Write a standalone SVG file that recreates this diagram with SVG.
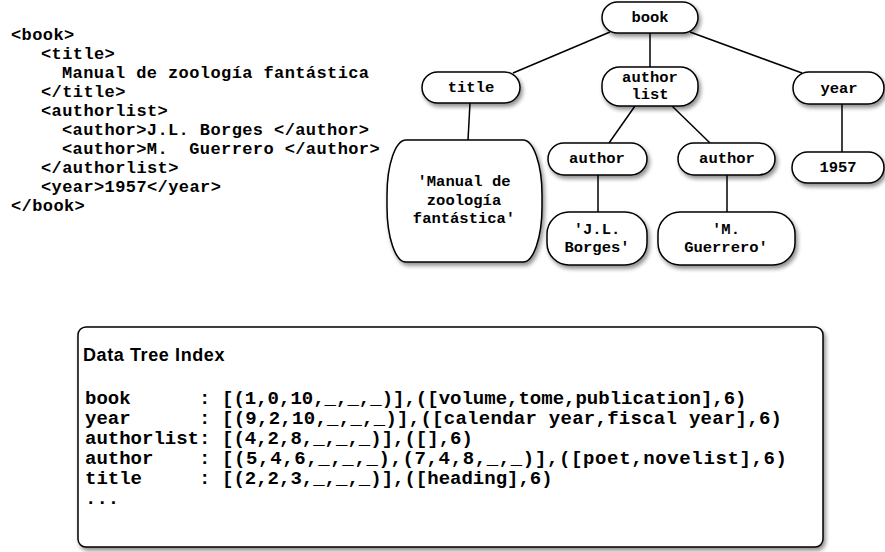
<svg xmlns="http://www.w3.org/2000/svg" width="885" height="552" viewBox="0 0 885 552">
<defs>
<filter id="sh" x="-20%" y="-20%" width="150%" height="160%">
<feGaussianBlur in="SourceAlpha" stdDeviation="2"/>
<feOffset dx="2" dy="3" result="b"/>
<feComponentTransfer><feFuncA type="linear" slope="0.45"/></feComponentTransfer>
<feMerge><feMergeNode/><feMergeNode in="SourceGraphic"/></feMerge>
</filter>
</defs>
<style>
.code{font-family:"Liberation Mono","Courier New",monospace;font-weight:bold;font-size:17px;letter-spacing:0.4px;fill:#000}
.n{fill:#fff;stroke:#000;stroke-width:1.5;filter:url(#sh)}
.t{font-family:"Liberation Mono","Courier New",monospace;font-weight:bold;font-size:15.5px;fill:#000;text-anchor:middle}
.e{stroke:#000;stroke-width:1.5;fill:none}
.idx{font-family:"Liberation Mono","Courier New",monospace;font-weight:bold;font-size:19px;fill:#000;white-space:pre}
.hd{font-family:"Liberation Sans",Arial,sans-serif;font-weight:bold;font-size:18px;fill:#000}
</style>
<rect width="885" height="552" fill="#fff"/>
<g id="xml-source">
<text class="code" x="11" y="40">&lt;book&gt;</text>
<text class="code" x="41" y="59">&lt;title&gt;</text>
<text class="code" x="62" y="78">Manual de zoología fantástica</text>
<text class="code" x="41" y="97">&lt;/title&gt;</text>
<text class="code" x="41" y="116">&lt;authorlist&gt;</text>
<text class="code" x="62" y="135">&lt;author&gt;J.L. Borges &lt;/author&gt;</text>
<text class="code" x="62" y="154" xml:space="preserve">&lt;author&gt;M.  Guerrero &lt;/author&gt;</text>
<text class="code" x="41" y="173">&lt;/authorlist&gt;</text>
<text class="code" x="41" y="192">&lt;year&gt;1957&lt;/year&gt;</text>
<text class="code" x="11" y="211">&lt;/book&gt;</text>
</g>
<g id="connectors">
<line class="e" x1="610" y1="32" x2="513" y2="73"/>
<line class="e" x1="650" y1="33" x2="650" y2="67"/>
<line class="e" x1="690" y1="32" x2="802" y2="73"/>
<line class="e" x1="470" y1="103" x2="468" y2="140"/>
<line class="e" x1="635" y1="106" x2="609" y2="143"/>
<line class="e" x1="672" y1="106" x2="710" y2="143"/>
<line class="e" x1="842" y1="104" x2="842" y2="152"/>
<line class="e" x1="598" y1="175" x2="598" y2="212"/>
<line class="e" x1="727" y1="175" x2="727" y2="212"/>
</g>
<g id="node-book"><rect class="n" x="602" y="2" width="96" height="31" rx="15.5"/><text class="t" x="650" y="22">book</text></g>
<g id="node-title"><rect class="n" x="422" y="72" width="98" height="31" rx="15.5"/><text class="t" x="471" y="92">title</text></g>
<g id="node-authorlist"><rect class="n" x="602" y="67" width="96" height="39" rx="18"/><text class="t" x="650" y="82">author</text><text class="t" x="650" y="99">list</text></g>
<g id="node-year"><rect class="n" x="793" y="72" width="91" height="32" rx="16"/><text class="t" x="839" y="93">year</text></g>
<g id="node-title-text"><rect class="n" x="387" y="140" width="155" height="122" rx="19" ry="55"/><text class="t" x="464" y="186">'Manual de</text><text class="t" x="464" y="205">zoología</text><text class="t" x="464" y="223">fantástica'</text></g>
<g id="node-author1"><rect class="n" x="548" y="143" width="99" height="32" rx="16"/><text class="t" x="597" y="163">author</text></g>
<g id="node-author2"><rect class="n" x="678" y="143" width="97" height="32" rx="16"/><text class="t" x="727" y="163">author</text></g>
<g id="node-1957"><rect class="n" x="792" y="152" width="92" height="31" rx="15.5"/><text class="t" x="838" y="172">1957</text></g>
<g id="node-borges"><rect class="n" x="547" y="212" width="100" height="53" rx="22"/><text class="t" x="597" y="234">'J.L.</text><text class="t" x="597" y="252">Borges'</text></g>
<g id="node-guerrero"><rect class="n" x="658" y="212" width="137" height="53" rx="22"/><text class="t" x="726" y="234">'M.</text><text class="t" x="726" y="252">Guerrero'</text></g>
<g id="index-box">
<rect class="n" x="78" y="327" width="745" height="220" rx="8"/>
<text class="hd" x="83" y="361" letter-spacing="0.6">Data Tree Index</text>
<text class="idx" y="404" xml:space="preserve"><tspan x="85">book      : </tspan><tspan x="222">[(1,0,10,_,_,_)],([volume,tome,publication],6)</tspan></text>
<text class="idx" y="424" xml:space="preserve"><tspan x="85">year      : </tspan><tspan x="222" textLength="560" lengthAdjust="spacing">[(9,2,10,_,_,_)],([calendar year,fiscal year],6)</tspan></text>
<text class="idx" y="444" xml:space="preserve"><tspan x="85">authorlist: </tspan><tspan x="222">[(4,2,8,_,_,_)],([],6)</tspan></text>
<text class="idx" y="464" xml:space="preserve"><tspan x="85">author    : </tspan><tspan x="222" textLength="565" lengthAdjust="spacing">[(5,4,6,_,_,_),(7,4,8,_,_)],([poet,novelist],6)</tspan></text>
<text class="idx" y="484" xml:space="preserve"><tspan x="85">title     : </tspan><tspan x="222">[(2,2,3,_,_,_)],([heading],6)</tspan></text>
<text class="idx" x="85" y="504">...</text>
</g>
</svg>
